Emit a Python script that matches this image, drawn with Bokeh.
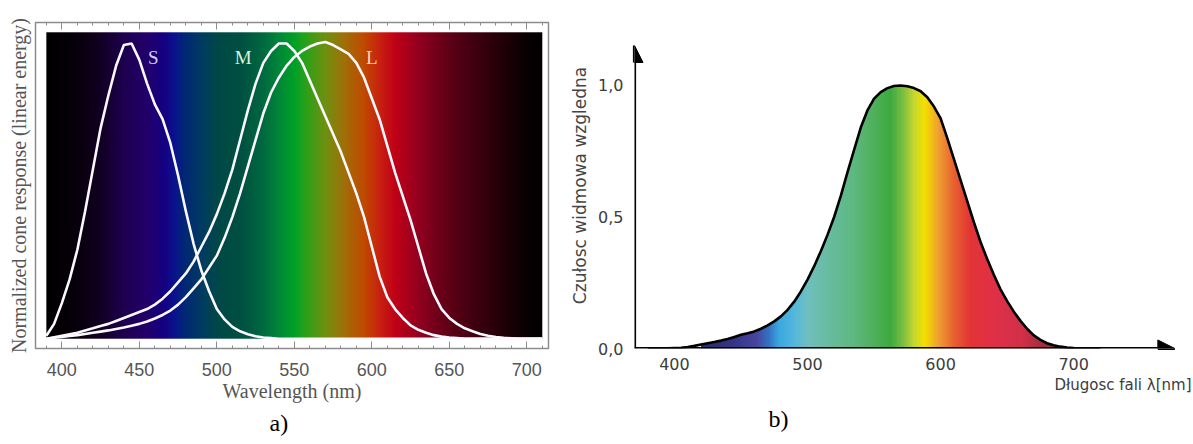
import numpy as np
from bokeh.plotting import figure
from bokeh.models import (FixedTicker, LinearAxis, Arrow, NormalHead, Title,
                          CustomJSTickFormatter, ColumnDataSource)
from bokeh.layouts import row
from bokeh.embed import file_html
from bokeh.resources import INLINE
from bokeh.core.properties import value

# ---------------- data: panel a) cone fundamentals ----------------
wavelength_a = list(range(390, 715, 5))
cone_S = [0.01, 0.05, 0.12, 0.20, 0.30, 0.43, 0.57, 0.71, 0.82, 0.92,
          0.99, 0.995, 0.94, 0.86, 0.79, 0.74, 0.66, 0.55, 0.43, 0.32,
          0.23, 0.16, 0.10, 0.065, 0.04, 0.025, 0.015, 0.008, 0.004, 0.002] + [0.0] * 35
cone_M = [0.0, 0.005, 0.01, 0.015, 0.02, 0.028, 0.035, 0.043, 0.05, 0.06,
          0.07, 0.08, 0.09, 0.10, 0.115, 0.135, 0.16, 0.19, 0.22, 0.26,
          0.31, 0.36, 0.42, 0.49, 0.57, 0.67, 0.77, 0.86, 0.93, 0.97,
          0.995, 0.995, 0.97, 0.93, 0.87, 0.81, 0.75, 0.69, 0.63, 0.56,
          0.49, 0.41, 0.31, 0.21, 0.14, 0.10, 0.07, 0.045, 0.03, 0.02,
          0.012, 0.007, 0.004, 0.002] + [0.0] * 11
cone_L = [0.0, 0.003, 0.006, 0.009, 0.012, 0.016, 0.02, 0.024, 0.028, 0.033,
          0.038, 0.044, 0.05, 0.058, 0.068, 0.08, 0.095, 0.115, 0.14, 0.17,
          0.20, 0.24, 0.28, 0.34, 0.41, 0.49, 0.58, 0.67, 0.76, 0.83,
          0.88, 0.92, 0.95, 0.97, 0.985, 0.995, 1.0, 0.99, 0.975, 0.96,
          0.93, 0.88, 0.81, 0.74, 0.65, 0.56, 0.48, 0.40, 0.31, 0.22,
          0.15, 0.10, 0.07, 0.05, 0.035, 0.025, 0.016, 0.01, 0.006, 0.003,
          0.001] + [0.0] * 4
cone_names = ["S", "M", "L"]
cone_label_x = [459, 517, 600]
cone_label_y = [0.947, 0.947, 0.947]
x_ticks_a = [400, 450, 500, 550, 600, 650, 700]

# ---------------- data: panel b) relative spectral sensitivity ----------------
wavelength_b = list(range(380, 725, 5))
sensitivity = [0.0, 0.0, 0.0, 0.001, 0.002, 0.003, 0.006, 0.01, 0.015, 0.02,
               0.025, 0.03, 0.036, 0.044, 0.052, 0.058, 0.065, 0.075, 0.088, 0.103,
               0.122, 0.147, 0.178, 0.217, 0.262, 0.313, 0.37, 0.432, 0.50, 0.58,
               0.67, 0.755, 0.84, 0.905, 0.95, 0.975, 0.99, 0.998, 1.0, 0.997,
               0.99, 0.978, 0.955, 0.92, 0.875, 0.80, 0.72, 0.64, 0.56, 0.48,
               0.405, 0.34, 0.28, 0.225, 0.18, 0.14, 0.105, 0.075, 0.05, 0.033,
               0.02, 0.012, 0.007, 0.004, 0.002, 0.001, 0.0, 0.0, 0.0]
x_ticks_b = [400, 500, 600, 700]
y_ticks_b = [0.0, 0.5, 1.0]

# ---------------- style: spectrum colour stops ----------------
stops_a = [(390, "#000000"), (410, "#08000c"), (425, "#120024"), (440, "#1e0050"),
           (455, "#22006c"), (465, "#160082"), (472, "#0a128e"), (480, "#002a72"),
           (490, "#003c60"), (500, "#004848"), (515, "#005040"), (530, "#006a40"),
           (540, "#008838"), (550, "#00a028"), (558, "#30a018"), (570, "#709010"),
           (582, "#a07008"), (595, "#c04800"), (605, "#c82010"), (615, "#c00018"),
           (628, "#980020"), (645, "#680018"), (665, "#400010"), (685, "#200008"),
           (700, "#080002"), (710, "#000000")]
stops_b = [(420, "#2a2a6a"), (445, "#363688"), (462, "#4848a0"), (470, "#3470c0"),
           (478, "#3aa8e0"), (490, "#55b8dc"), (500, "#70c0c0"), (515, "#68bca0"),
           (535, "#5db880"), (552, "#4caf55"), (562, "#3daa40"), (572, "#80c040"),
           (580, "#c8d830"), (588, "#f5e000"), (598, "#f0a030"), (610, "#e86030"),
           (622, "#e33535"), (640, "#e03048"), (662, "#d03048"), (685, "#8a2a40"),
           (700, "#602030")]


def gradient(stops):
    lo, hi = stops[0][0], stops[-1][0]
    grid = np.arange(lo, hi + 1)
    pos = [s[0] for s in stops]
    rgb = np.array([[int(c[1:3], 16), int(c[3:5], 16), int(c[5:7], 16)] for _, c in stops])
    img = np.zeros((1, len(grid)), dtype=np.uint32)
    view = img.view(dtype=np.uint8).reshape((1, len(grid), 4))
    for k in range(3):
        view[0, :, k] = np.interp(grid, pos, rgb[:, k]).astype(np.uint8)
    view[0, :, 3] = 255
    return img, lo, hi - lo


# ======================= panel a) =======================
p1 = figure(width=560, height=444, x_range=(383, 714), y_range=(-0.033, 1.066),
            output_backend="svg", toolbar_location=None,
            min_border_left=35, min_border_right=12, min_border_top=19, min_border_bottom=91)
p1.grid.visible = False
p1.outline_line_color = "#8c8c8c"
p1.outline_line_width = 1.5
p1.background_fill_color = "white"

img_a, x0_a, dw_a = gradient(stops_a)
p1.image_rgba(image=[img_a], x=x0_a, y=0, dw=dw_a, dh=1.033)

src_a = ColumnDataSource(dict(wl=wavelength_a, S=cone_S, M=cone_M, L=cone_L))
for col in ["S", "M", "L"]:
    p1.line("wl", col, source=src_a, line_color="#fbf8ff", line_width=2.6)

p1.text(x=cone_label_x, y=cone_label_y, text=cone_names,
        text_color=["#d8ccff", "#d4f4dc", "#ffd4b8"],
        text_font=value("Liberation Serif"), text_font_size="19px",
        text_align="center", text_baseline="middle")

minor_a = list(range(390, 711, 10))
xa = p1.xaxis[0]
xa.ticker = FixedTicker(ticks=x_ticks_a, minor_ticks=minor_a)
xa.axis_line_color = None
xa.major_tick_in = 7
xa.major_tick_out = 0
xa.minor_tick_in = 3
xa.minor_tick_out = 0
xa.major_tick_line_color = "#8c8c8c"
xa.minor_tick_line_color = "#8c8c8c"
xa.major_label_text_font = "Liberation Sans"
xa.major_label_text_font_size = "18px"
xa.major_label_text_color = "#555555"
xa.major_label_standoff = 14
xa.axis_label = "Wavelength (nm)"
xa.axis_label_text_font = "Liberation Serif"
xa.axis_label_text_font_size = "20px"
xa.axis_label_text_font_style = "normal"
xa.axis_label_text_color = "#555555"
xa.axis_label_standoff = 1

top = LinearAxis(ticker=FixedTicker(ticks=x_ticks_a, minor_ticks=minor_a),
                 formatter=CustomJSTickFormatter(code="return '';"),
                 major_label_text_font_size="1px", major_label_standoff=0,
                 major_tick_in=7, major_tick_out=0, minor_tick_in=3, minor_tick_out=0,
                 major_tick_line_color="#8c8c8c", minor_tick_line_color="#8c8c8c",
                 axis_line_color=None)
p1.add_layout(top, "above")

ya = p1.yaxis[0]
ya.ticker = FixedTicker(ticks=[])
ya.axis_line_color = None
ya.major_tick_line_color = None
ya.minor_tick_line_color = None
ya.major_label_standoff = 0
ya.axis_label = "Normalized cone response (linear energy)"
ya.axis_label_text_font = "Liberation Serif"
ya.axis_label_text_font_size = "20px"
ya.axis_label_text_font_style = "normal"
ya.axis_label_text_color = "#555555"
ya.axis_label_standoff = 6

p1.add_layout(Title(text="a)", align="left", offset=234, standoff=6,
                    text_font="Liberation Serif", text_font_size="24px",
                    text_font_style="normal", text_color="black"), "below")

# ======================= panel b) =======================
p2 = figure(width=633, height=444, x_range=(370, 784), y_range=(0, 1.2395),
            output_backend="svg", toolbar_location=None,
            min_border_left=74, min_border_right=8, min_border_top=22, min_border_bottom=96)
p2.grid.visible = False
p2.outline_line_color = None

img_b, x0_b, dw_b = gradient(stops_b)
p2.image_rgba(image=[img_b], x=x0_b, y=0, dw=dw_b, dh=1.0)

# white mask above the curve (hides the spectrum outside the sensitivity curve)
mask_x = [w for w in wavelength_b if x0_b <= w <= x0_b + dw_b]
mask_y = [v for w, v in zip(wavelength_b, sensitivity) if x0_b <= w <= x0_b + dw_b]
p2.patch(mask_x + [mask_x[-1] + 1, mask_x[-1] + 1, mask_x[0] - 1, mask_x[0] - 1],
         mask_y + [0, 1.02, 1.02, 0], fill_color="white", line_color=None)

p2.line(wavelength_b, sensitivity, line_color="black", line_width=2.6)

p2.add_layout(Arrow(end=NormalHead(size=17, fill_color="black", line_color="black"),
                    x_start=370, y_start=0, x_end=776, y_end=0,
                    line_color="black", line_width=3.2))
p2.add_layout(Arrow(end=NormalHead(size=17, fill_color="black", line_color="black"),
                    x_start=370, y_start=0, x_end=370, y_end=1.152,
                    line_color="black", line_width=3.2))

xb = p2.xaxis[0]
xb.ticker = FixedTicker(ticks=x_ticks_b)
xb.axis_line_color = None
xb.major_tick_line_color = None
xb.minor_tick_line_color = None
xb.major_label_text_font = "DejaVu Sans"
xb.major_label_text_font_size = "16px"
xb.major_label_text_color = "#3c3c3c"
xb.major_label_standoff = 3

yb = p2.yaxis[0]
yb.ticker = FixedTicker(ticks=y_ticks_b)
yb.formatter = CustomJSTickFormatter(code="return tick.toFixed(1).replace('.', ',');")
yb.axis_line_color = None
yb.major_tick_line_color = None
yb.minor_tick_line_color = None
yb.major_label_text_font = "DejaVu Sans"
yb.major_label_text_font_size = "16px"
yb.major_label_text_color = "#3c3c3c"
yb.major_label_standoff = 5
yb.axis_label = "Czułosc widmowa wzgledna"
yb.axis_label_text_font = "DejaVu Sans"
yb.axis_label_text_font_size = "17px"
yb.axis_label_text_font_style = "normal"
yb.axis_label_text_color = "#444444"
yb.axis_label_standoff = 5

p2.add_layout(Title(text="Długosc fali λ[nm]", align="right", offset=-6, standoff=3,
                    text_font="DejaVu Sans", text_font_size="15px",
                    text_font_style="normal", text_color="#3c3c3c"), "below")
p2.add_layout(Title(text="b)", align="left", offset=134, standoff=17,
                    text_font="Liberation Serif", text_font_size="24px",
                    text_font_style="normal", text_color="black"), "below")

layout = row(p1, p2, spacing=0)
open("out.html", "w").write(file_html(layout, INLINE))
